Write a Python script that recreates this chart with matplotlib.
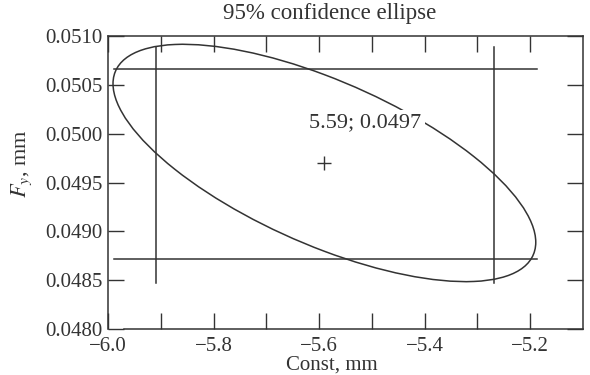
import numpy as np
import matplotlib
matplotlib.use("Agg")
import matplotlib.pyplot as plt
from matplotlib.patches import Ellipse

# ---- data ----
center_x = -5.59
center_y = 0.0497
half_range_x = 0.4005      # half extent of ellipse along x
half_range_y = 0.001215    # half extent of ellipse along y
correlation = -0.668
hline_y = [0.04872, 0.05066]
hline_x_span = [-5.988, -5.188]
vline_x = [-5.91, -5.268]
vline_y_span = [0.04847, 0.05089]
label_text = "5.59; 0.0497"
label_pos = [-5.512, 0.05011]
x_major = [-6.0, -5.8, -5.6, -5.4, -5.2]
x_minor = [-5.9, -5.7, -5.5, -5.3]
y_ticks = [0.0480, 0.0485, 0.0490, 0.0495, 0.0500, 0.0505, 0.0510]
y_ticklabels = ["0.0480", "0.0485", "0.0490", "0.0495", "0.0500", "0.0505", "0.0510"]

plt.rcParams['font.family'] = ['Liberation Serif', 'DejaVu Serif']
plt.rcParams['mathtext.fontset'] = 'stix'
LC = '#333333'

fig = plt.figure(figsize=(5.9, 3.75), dpi=100)
ax = fig.add_axes([108/590, 1-329/375, (583-108)/590, (329-36)/375])
ax.set_xlim(-6.0, -5.1)
ax.set_ylim(0.0480, 0.0510)

# ellipse from covariance
cov = np.array([[half_range_x**2, correlation*half_range_x*half_range_y],
                [correlation*half_range_x*half_range_y, half_range_y**2]])
vals, vecs = np.linalg.eigh(cov)
angle = np.degrees(np.arctan2(vecs[1, 1], vecs[0, 1]))
ell = Ellipse((center_x, center_y), 2*np.sqrt(vals[1]), 2*np.sqrt(vals[0]),
              angle=angle, fill=False, edgecolor=LC, lw=1.1, zorder=2)
ax.add_patch(ell)

for yv in hline_y:
    ax.plot(hline_x_span, [yv, yv], color=LC, lw=1.1, zorder=2)
for xv in vline_x:
    ax.plot([xv, xv], vline_y_span, color=LC, lw=1.1, zorder=2)

ax.plot([center_x], [center_y], marker='+', markersize=10, mew=1.0, color=LC, ls='none')
ax.text(label_pos[0], label_pos[1], label_text, fontsize=16, color='#333333',
        ha='center', va='center', zorder=3,
        bbox=dict(boxstyle='square,pad=0.15', fc='white', ec='none'))

ax.set_xticks(x_major)
ax.set_xticklabels([f"\u2212{abs(v):.1f}" for v in x_major])
ax.set_xticks(x_minor, minor=True)
ax.set_yticks(y_ticks)
ax.set_yticklabels(y_ticklabels)
ax.tick_params(which='both', direction='in', length=11.5, width=1.0, color=LC,
               top=True, right=True, labelcolor='#333333')
ax.tick_params(axis='x', pad=5.5, labelsize=15)
ax.tick_params(axis='y', pad=4, labelsize=15)
for s in ax.spines.values():
    s.set_color(LC)
    s.set_linewidth(1.1)
ax.spines['bottom'].set_bounds(-5.97, -5.1)

fig.text(330/590, 1-14/375, "95% confidence ellipse", fontsize=16.5, color='#333333',
         ha='center', va='center')
fig.text(332/590, 0.5/375, "Const, mm", fontsize=15, color='#333333',
         ha='center', va='bottom')
fig.text(22/590, 1-164/375, "$F_y$, mm", fontsize=16, color='#333333',
         ha='center', va='center', rotation=90)

fig.savefig("out.png", dpi=100)
